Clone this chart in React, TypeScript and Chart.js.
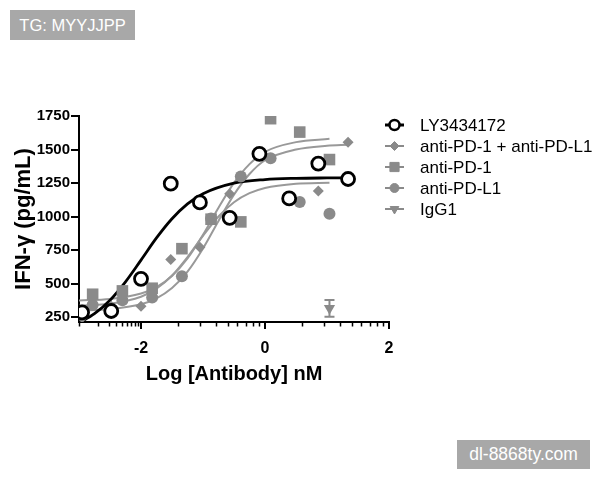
import React, { useEffect, useRef } from "react";
import { Chart, registerables } from "chart.js";
import { drawPoint } from "chart.js/helpers";

Chart.register(...registerables);

// ---- data ----
const seriesLabels = ["LY3434172", "anti-PD-1 + anti-PD-L1", "anti-PD-1", "anti-PD-L1", "IgG1"];

const lyX = [-2.95, -2.48, -2.0, -1.52, -1.05, -0.57, -0.09, 0.39, 0.86, 1.34];
const lyY = [285, 295, 535, 1245, 1105, 990, 1468, 1135, 1395, 1280];

const comboX = [-2.95, -2.48, -2.0, -1.52, -1.05, -0.57, -0.09, 0.39, 0.86, 1.34];
const comboY: (number | null)[] = [245, 330, 330, 680, 770, 1170, null, null, 1190, 1555];

const pd1X = [-2.78, -2.3, -1.82, -1.34, -0.87, -0.39, 0.09, 0.56, 1.04];
const pd1Y = [420, 445, 465, 760, 980, 960, 1730, 1630, 1425];

const pdl1X = [-2.78, -2.3, -1.82, -1.34, -0.87, -0.39, 0.09, 0.56, 1.04];
const pdl1Y = [340, 375, 395, 555, 985, 1298, 1435, 1108, 1020];

const igg1X = [1.04];
const igg1Y = [315];
const igg1Err = [62];

// fitted curves
const lyFitX = [-3, -2.75, -2.5, -2.25, -2, -1.75, -1.5, -1.25, -1, -0.5, 0, 0.5, 1, 1.34];
const lyFitY = [206, 275, 376, 513, 675, 840, 983, 1094, 1170, 1249, 1276, 1285, 1288, 1289];

const comboFitX = [-3, -2.5, -2, -1.75, -1.5, -1.25, -1, -0.75, -0.5, -0.25, 0, 0.5, 1, 1.34];
const comboFitY = [299, 309, 345, 389, 466, 589, 762, 967, 1163, 1317, 1420, 1500, 1528, 1535];

const pd1FitX = [-3, -2.5, -2, -1.75, -1.5, -1.25, -1, -0.75, -0.5, -0.25, 0, 0.5, 1.04];
const pd1FitY = [374, 385, 426, 474, 557, 687, 864, 1066, 1251, 1391, 1483, 1555, 1580];

const pdl1FitX = [-3, -2.5, -2, -1.75, -1.5, -1.25, -1, -0.75, -0.5, -0.25, 0, 0.5, 1.04];
const pdl1FitY = [335, 349, 401, 462, 560, 698, 856, 1000, 1107, 1174, 1213, 1244, 1252];

const xTickValues = [-2, 0, 2];
const yTickValues = [250, 500, 750, 1000, 1250, 1500, 1750];
const xMin = -3;
const xMax = 2;
const yMin = 213;
const yMax = 1750;

const FONT = '"Liberation Sans", Arial, Helvetica, sans-serif';
const GRAY = "#8a8a8a";
const LINE_GRAY = "#999999";

const pts = (xs: number[], ys: (number | null)[]) => xs.map((x, i) => ({ x, y: ys[i] }));

const minorTicksPlugin = {
  id: "minorTicks",
  afterDraw(chart: any) {
    const sx = chart.scales.x;
    const ctx = chart.ctx;
    const y0 = chart.chartArea.bottom;
    const decades = [
      [-3, -2],
      [-2, 0],
      [0, 2],
    ];
    ctx.save();
    ctx.strokeStyle = "#000";
    ctx.lineWidth = 1.5;
    const pos: number[] = [xMin];
    decades.forEach(([a, b]) => {
      for (let k = 2; k <= 9; k++) pos.push(a + (b - a) * Math.log10(k));
    });
    pos.forEach((v) => {
      if (v < xMin || v > xMax) return;
      const px = Math.round(sx.getPixelForValue(v)) + 0.5;
      ctx.beginPath();
      ctx.moveTo(px, y0);
      ctx.lineTo(px, y0 + 4.5);
      ctx.stroke();
    });
    ctx.restore();
  },
};

const errorBarPlugin = {
  id: "errorBars",
  beforeDatasetsDraw(chart: any) {
    const sx = chart.scales.x;
    const sy = chart.scales.y;
    const ctx = chart.ctx;
    ctx.save();
    ctx.strokeStyle = GRAY;
    ctx.lineWidth = 2;
    igg1X.forEach((x, i) => {
      const px = sx.getPixelForValue(x);
      const top = sy.getPixelForValue(igg1Y[i] + igg1Err[i]);
      const bot = sy.getPixelForValue(igg1Y[i] - igg1Err[i]);
      ctx.beginPath();
      ctx.moveTo(px, top);
      ctx.lineTo(px, bot);
      ctx.moveTo(px - 5, top);
      ctx.lineTo(px + 5, top);
      ctx.moveTo(px - 5, bot);
      ctx.lineTo(px + 5, bot);
      ctx.stroke();
    });
    ctx.restore();
  },
};

const legendPlugin = {
  id: "customLegend",
  afterDraw(chart: any) {
    const ctx = chart.ctx;
    const rows = [
      { color: "#000", fill: "#fff", style: "circle", r: 5, rot: 0, lw: 3, bw: 2.5 },
      { color: GRAY, fill: GRAY, style: "rectRot", r: 4.5, rot: 0, lw: 2, bw: 1 },
      { color: GRAY, fill: GRAY, style: "rect", r: 6.5, rot: 0, lw: 2, bw: 1 },
      { color: GRAY, fill: GRAY, style: "circle", r: 4.5, rot: 0, lw: 2, bw: 1 },
      { color: GRAY, fill: GRAY, style: "triangle", r: 5, rot: 180, lw: 2, bw: 1 },
    ];
    ctx.save();
    rows.forEach((r, i) => {
      const y = 125 + i * 21;
      ctx.strokeStyle = r.color;
      ctx.lineWidth = r.lw;
      ctx.beginPath();
      ctx.moveTo(385, y);
      ctx.lineTo(404, y);
      ctx.stroke();
      ctx.fillStyle = r.fill;
      ctx.strokeStyle = r.color;
      ctx.lineWidth = r.bw;
      drawPoint(ctx, { pointStyle: r.style as any, rotation: r.rot, radius: r.r, borderWidth: r.bw }, 394.5, y);
      ctx.fillStyle = "#000";
      ctx.font = `17px ${FONT}`;
      ctx.textBaseline = "middle";
      ctx.textAlign = "left";
      ctx.fillText(seriesLabels[i], 420, y + 1);
    });
    ctx.restore();
  },
};

export default function App() {
  const ref = useRef<HTMLCanvasElement>(null);

  useEffect(() => {
    const canvas = ref.current;
    if (!canvas) return;
    const curve = (label: string, data: any, color: string, width: number, order: number) => ({
      label,
      data,
      showLine: true,
      pointRadius: 0,
      pointHoverRadius: 0,
      borderColor: color,
      backgroundColor: color,
      borderWidth: width,
      cubicInterpolationMode: "monotone" as const,
      order,
    });
    const chart = new Chart(canvas, {
      type: "scatter",
      data: {
        datasets: [
          {
            label: seriesLabels[0],
            data: pts(lyX, lyY),
            pointStyle: "circle",
            pointRadius: 6.5,
            borderWidth: 2.8,
            borderColor: "#000",
            backgroundColor: "#fff",
            order: 1,
          },
          {
            label: seriesLabels[1],
            data: pts(comboX, comboY),
            pointStyle: "rectRot",
            pointRadius: 5.5,
            borderWidth: 0,
            borderColor: GRAY,
            backgroundColor: GRAY,
            order: 2,
          },
          {
            label: seriesLabels[2],
            data: pts(pd1X, pd1Y),
            pointStyle: "rect",
            pointRadius: 8.2,
            borderWidth: 0,
            borderColor: GRAY,
            backgroundColor: GRAY,
            order: 3,
          },
          {
            label: seriesLabels[3],
            data: pts(pdl1X, pdl1Y),
            pointStyle: "circle",
            pointRadius: 6,
            borderWidth: 0,
            borderColor: GRAY,
            backgroundColor: GRAY,
            order: 4,
          },
          {
            label: seriesLabels[4],
            data: pts(igg1X, igg1Y),
            pointStyle: "triangle",
            rotation: 180,
            pointRadius: 6.5,
            borderWidth: 0,
            borderColor: GRAY,
            backgroundColor: GRAY,
            order: 5,
          },
          curve("LY3434172 fit", pts(lyFitX, lyFitY), "#000", 2.8, 6),
          curve("combo fit", pts(comboFitX, comboFitY), LINE_GRAY, 2, 7),
          curve("anti-PD-1 fit", pts(pd1FitX, pd1FitY), LINE_GRAY, 2, 8),
          curve("anti-PD-L1 fit", pts(pdl1FitX, pdl1FitY), LINE_GRAY, 2, 9),
        ] as any,
      },
      options: {
        responsive: false,
        animation: false,
        devicePixelRatio: 1,
        layout: { padding: { top: 116, right: 211, bottom: 94, left: 0 } },
        plugins: { legend: { display: false }, tooltip: { enabled: false } },
        scales: {
          x: {
            type: "linear",
            min: xMin,
            max: xMax,
            afterBuildTicks: (s: any) => {
              s.ticks = xTickValues.map((v) => ({ value: v }));
            },
            afterFit: (s: any) => {
              s.height = 64;
            },
            border: { display: true, color: "#000", width: 2 },
            grid: { drawOnChartArea: false, drawTicks: true, tickLength: 7, color: "#000", lineWidth: 2 },
            ticks: {
              padding: 10,
              color: "#000",
              font: { family: FONT, size: 16, weight: "bold" },
              callback: (v: any) => String(v),
            },
            title: {
              display: true,
              text: "Log [Antibody] nM",
              color: "#000",
              font: { family: FONT, size: 20, weight: "bold" },
              padding: { top: 0, bottom: 0 },
            },
          },
          y: {
            type: "linear",
            min: yMin,
            max: yMax,
            afterBuildTicks: (s: any) => {
              s.ticks = yTickValues.map((v) => ({ value: v }));
            },
            afterFit: (s: any) => {
              s.width = 79;
            },
            border: { display: true, color: "#000", width: 2 },
            grid: { drawOnChartArea: false, drawTicks: true, tickLength: 8, color: "#000", lineWidth: 2 },
            ticks: {
              padding: 1,
              color: "#000",
              font: { family: FONT, size: 15, weight: "bold" },
              callback: (v: any) => String(v),
            },
            title: {
              display: true,
              text: "IFN-γ (pg/mL)",
              color: "#000",
              font: { family: FONT, size: 22, weight: "bold" },
              padding: { top: 11, bottom: 0 },
            },
          },
        },
      } as any,
      plugins: [minorTicksPlugin, errorBarPlugin, legendPlugin],
    });
    return () => chart.destroy();
  }, []);

  const badge: React.CSSProperties = {
    position: "absolute",
    background: "#a8a8a8",
    color: "#fff",
    fontFamily: FONT,
    fontSize: 16.5,
    display: "flex",
    alignItems: "center",
    justifyContent: "center",
  };

  return (
    <div style={{ position: "fixed", left: 0, top: 0, width: 600, height: 480, background: "#fff" }}>
      <canvas ref={ref} width={600} height={480} style={{ display: "block", width: 600, height: 480 }} />
      <div style={{ ...badge, left: 10, top: 10, width: 125, height: 30 }}>TG: MYYJJPP</div>
      <div style={{ ...badge, left: 457, top: 440, width: 133, height: 29, fontSize: 17.5 }}>dl-8868ty.com</div>
    </div>
  );
}
